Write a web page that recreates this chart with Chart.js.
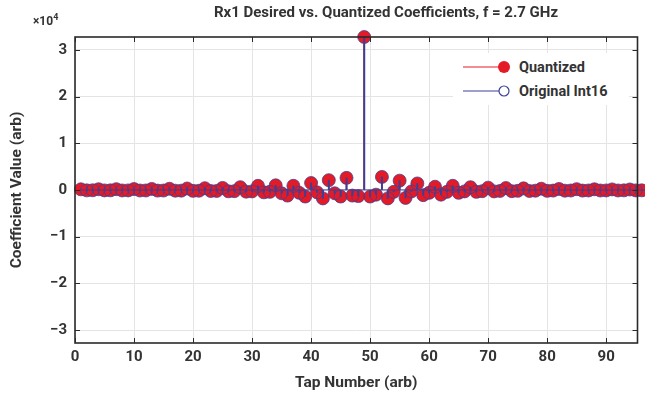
<!DOCTYPE html>
<html>
<head>
<meta charset="utf-8">
<script src="https://cdn.jsdelivr.net/npm/chart.js@4/dist/chart.umd.min.js"></script>
<style>
  html, body { margin: 0; padding: 0; background: #fff; }
  .wrap { position: relative; width: 645px; height: 396px; font-family: Roboto, "Noto Sans", sans-serif; color: #333; }
  canvas { position: absolute; left: 0; top: 0; }
  .title { position: absolute; top: 3px; left: 386px; transform: translateX(-50%); white-space: nowrap;
           font-weight: bold; font-size: 15px; }
  .expo { position: absolute; top: 12px; left: 33px; font-weight: bold; font-size: 12px; }
  .expo sup { font-size: 9px; }
  .legend { position: absolute; left: 453px; top: 53px; width: 176px; height: 52px; background: #fff;
            font-weight: bold; font-size: 14.5px; }
  .legend .row { position: absolute; left: 0; height: 20px; display: flex; align-items: center; }
  .legend svg { display: block; margin-right: 6px; }
</style>
</head>
<body>
<div class="wrap">
  <canvas id="stemChart" width="645" height="396"></canvas>
  <div class="title">Rx1 Desired vs. Quantized Coefficients, f = 2.7 GHz</div>
  <div class="expo">×10<sup>4</sup></div>
  <div class="legend">
    <div class="row" style="top:4px">
      <svg width="60" height="16"><line x1="10" y1="8" x2="50" y2="8" stroke="#e41a26" stroke-width="1"/><circle cx="51" cy="8" r="6" fill="#e41a26"/></svg>
      <span>Quantized</span>
    </div>
    <div class="row" style="top:28px">
      <svg width="60" height="16"><line x1="10" y1="8" x2="46" y2="8" stroke="#3d3f96" stroke-width="1"/><circle cx="51" cy="8" r="5" fill="none" stroke="#3d3f96" stroke-width="1.2"/></svg>
      <span>Original Int16</span>
    </div>
  </div>
</div>
<script>
//------------------------------------------------------------
const quantized = [
     150,  -80,  -60,  160,  -90,  -70,  180, -100,  -90,  200,
    -110, -100,  230, -130, -110,  260, -150, -140,  320, -180,
    -160,  380, -220, -200,  450, -280, -250,  600, -350, -300,
     900, -500, -400, 1000, -700,-1200,  900, -600,-1400, 1500,
    -500,-1800, 2100, -700,-1400, 2600,-1200,-1300,32767,-1400,
   -1000, 2800,-1800, -400, 2000,-1700, -300, 1400,-1100, -600,
     700,-1000, -400,  900, -600, -300,  600, -400, -250,  500,
    -300, -200,  420, -250, -180,  350, -220, -150,  280, -180,
    -130,  220, -150, -110,  180, -130, -100,  150, -110,  -90,
     130, -100,  -80,  110,  -90,  -70,  100,
];
const originalInt16 = [
     148,  -82,  -58,  161,  -88,  -71,  179, -102,  -89,  201,
    -108, -101,  229, -131, -112,  262, -149, -141,  318, -181,
    -158,  382, -219, -202,  448, -281, -248,  602, -352, -299,
     898, -502, -399, 1003, -698,-1201,  902, -603,-1398, 1497,
    -502,-1799, 2103, -701,-1402, 2598,-1199,-1302,32767,-1398,
   -1002, 2801,-1797, -403, 2002,-1699, -302, 1401,-1098, -603,
     702, -998, -401,  898, -602, -301,  601, -398, -252,  502,
    -298, -201,  421, -248, -182,  351, -219, -152,  279, -181,
    -128,  221, -149, -112,  181, -128, -101,  152, -108,  -91,
     128, -102,  -79,  111,  -88,  -72,   99,
];
const taps = quantized.map((_, i) => i + 1);

const xTicks = [0, 10, 20, 30, 40, 50, 60, 70, 80, 90];
const yTicks = [-30000, -20000, -10000, 0, 10000, 20000, 30000];
const xMax = 95.3;
const yMin = -32768;
const yMax = 32767;

const red = '#e41a26';
const blue = '#3d3f96';
const textColor = '#333333';

//------------------------------------------------------------
const toPoints = values => values.map((v, i) => ({ x: taps[i], y: v }));

//----------------------------------
// box plus inward tick marks, like the original plot
const frameAndTicks = {
    id: 'frameAndTicks',
    afterDatasetsDraw(chart) {
        const { ctx, chartArea: a, scales } = chart;
        ctx.save();
        ctx.strokeStyle = '#2a2a2a';
        ctx.lineWidth = 1;
        ctx.beginPath();
        xTicks.forEach(t => {
            const px = Math.round(scales.x.getPixelForValue(t)) + 0.5;
            ctx.moveTo(px, a.bottom); ctx.lineTo(px, a.bottom - 5);
            ctx.moveTo(px, a.top); ctx.lineTo(px, a.top + 5);
        });
        yTicks.forEach(t => {
            const py = Math.round(scales.y.getPixelForValue(t)) + 0.5;
            ctx.moveTo(a.left, py); ctx.lineTo(a.left + 5, py);
            ctx.moveTo(a.right, py); ctx.lineTo(a.right - 5, py);
        });
        ctx.stroke();
        ctx.lineWidth = 1.6;
        ctx.strokeRect(a.left, a.top, a.right - a.left, a.bottom - a.top);
        ctx.restore();
    }
};

//------------------------------------------------------------
const tickFont = { family: 'Roboto', size: 15, weight: 'bold' };
const titleFont = { family: 'Roboto', size: 15.5, weight: 'bold' };

new Chart(document.getElementById('stemChart').getContext('2d'), {
    data: {
        datasets: [
            {
                type: 'bar', data: toPoints(quantized), backgroundColor: red,
                barThickness: 1, grouped: false, order: 5,
            },
            {
                type: 'scatter', data: toPoints(quantized), pointRadius: 6.5,
                pointBackgroundColor: red, pointBorderColor: red, pointBorderWidth: 0, order: 4,
            },
            {
                type: 'line', data: [{ x: taps[0], y: 0 }, { x: taps[taps.length - 1], y: 0 }],
                borderColor: blue, borderWidth: 1, pointRadius: 0, order: 3,
            },
            {
                type: 'bar', data: toPoints(originalInt16), backgroundColor: blue,
                barThickness: 1.3, grouped: false, order: 2,
            },
            {
                type: 'scatter', data: toPoints(originalInt16), pointRadius: 6.5,
                pointBackgroundColor: 'rgba(0,0,0,0)', pointBorderColor: 'rgba(61,63,150,0.75)',
                pointBorderWidth: 1, order: 1,
            },
        ],
    },
    options: {
        responsive: false,
        animation: false,
        clip: false,
        layout: { padding: { top: 37, right: 2, left: 0, bottom: 0 } },
        plugins: { legend: { display: false }, tooltip: { enabled: false } },
        scales: {
            x: {
                type: 'linear', min: 0, max: xMax, offset: false,
                afterBuildTicks: s => { s.ticks = xTicks.map(v => ({ value: v })); },
                afterFit: s => { s.height = 53; },
                grid: { color: '#e4e4e4', drawTicks: false, offset: false },
                border: { display: false },
                ticks: { font: tickFont, color: textColor, padding: 5, maxRotation: 0 },
                title: {
                    display: true, text: 'Tap Number (arb)', color: textColor,
                    font: titleFont, padding: { top: 0, bottom: 4 },
                },
            },
            y: {
                type: 'linear', min: yMin, max: yMax,
                afterBuildTicks: s => { s.ticks = yTicks.map(v => ({ value: v })); },
                afterFit: s => { s.width = 75; },
                grid: { color: '#e4e4e4', drawTicks: false },
                border: { display: false },
                ticks: {
                    font: tickFont, color: textColor, padding: 8,
                    callback: v => String(v / 10000).replace('-', '\u2212'),
                },
                title: {
                    display: true, text: 'Coefficient Value (arb)', color: textColor,
                    font: titleFont, padding: { top: 8, bottom: 0 },
                },
            },
        },
    },
    plugins: [frameAndTicks],
});
</script>
</body>
</html>
